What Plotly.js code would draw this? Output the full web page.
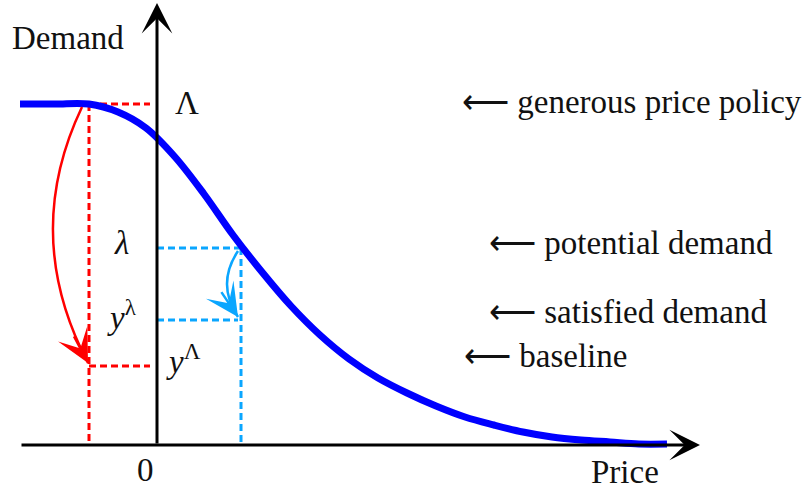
<!DOCTYPE html>
<html>
<head>
<meta charset="utf-8">
<script src="https://cdn.plot.ly/plotly-3.0.1.min.js"></script>
<style>html,body{margin:0;padding:0;background:#fff}#chart{width:809px;height:489px}</style>
</head>
<body>
<div id="chart"></div>
<script>
// Demand curve (price, demand)
const priceX  = [-1.37, -1.02, -0.68, -0.39, -0.11, 0.18, 0.47, 0.76, 1.05, 1.34, 1.63, 1.92, 2.21, 2.50, 2.79, 3.08, 3.37, 3.66, 3.95, 4.24, 4.53, 4.82, 5.10];
const demandY = [ 3.41,  3.41,  3.41,  3.33,  3.17, 2.88, 2.51, 2.10, 1.73, 1.39, 1.10, 0.86, 0.67, 0.52, 0.39, 0.28, 0.20, 0.13, 0.08, 0.05, 0.03, 0.01, 0.01];

// Key levels
const bigLambda    = 3.41;   // Λ  generous price policy
const smallLambda  = 1.97;   // λ  potential demand
const ySmall       = 1.25;   // y^λ satisfied demand
const yBig         = 0.79;   // y^Λ baseline
const priceGenerous = -0.68; // price of the generous policy
const pricePotential = 0.84; // price at the potential demand

// Axis extents
const xAxisStart = -1.37, xAxisEnd = 5.43, yAxisEnd = 4.42;

// Labels
const rightLabels = ["⟵ generous price policy", "⟵ potential demand", "⟵ satisfied demand", "⟵ baseline"];
const rightLabelX = [3.03, 3.30, 3.30, 3.05];
const rightLabelY = [3.43, 2.02, 1.33, 0.89];

const RED = '#ff0000', BLUE = '#0000ff', CYAN = '#0aa6ff', INK = '#111111';
const FONT = 'Liberation Serif, Times New Roman, serif';
const dash = '7px,4px';

const traces = [];
function seg(xs, ys, color, width, dashStyle) {
  traces.push({x: xs, y: ys, mode: 'lines', type: 'scatter', hoverinfo: 'skip',
    line: {color: color, width: width, dash: dashStyle || 'solid'}});
}
// red dashed guides
seg([priceGenerous, -0.07], [bigLambda, bigLambda], RED, 3, dash);
seg([priceGenerous, priceGenerous], [bigLambda, 0], RED, 3, dash);
seg([priceGenerous, -0.07], [yBig, yBig], RED, 3, dash);
// blue dashed guides
seg([0, pricePotential], [smallLambda, smallLambda], CYAN, 3, dash);
seg([pricePotential, pricePotential], [smallLambda, 0], CYAN, 3, dash);
seg([0, pricePotential - 0.03], [ySmall, ySmall], CYAN, 3, dash);

// demand curve
traces.push({x: priceX, y: demandY, mode: 'lines', type: 'scatter', hoverinfo: 'skip',
  line: {color: BLUE, width: 7, shape: 'spline', smoothing: 1}});

// curved arrows (quadratic Bezier paths between key points)
const redStart = [priceGenerous - 0.07, bigLambda - 0.03], redEnd = [priceGenerous - 0.01, yBig + 0.03], redCtl = [-1.36, 2.1];
const bluStart = [pricePotential - 0.03, smallLambda - 0.03], bluEnd = [pricePotential - 0.03, ySmall + 0.03], bluCtl = [0.59, 1.61];
function qpath(s, c, e) { return `M ${s[0]},${s[1]} Q ${c[0]},${c[1]} ${e[0]},${e[1]}`; }
const shapes = [
  {type: 'path', xref: 'x', yref: 'y', path: qpath(redStart, redCtl, redEnd), line: {color: RED, width: 2.5}},
  {type: 'path', xref: 'x', yref: 'y', path: qpath(bluStart, bluCtl, bluEnd), line: {color: CYAN, width: 2.5}}
];

function headAnn(end, ctl, color, k) {
  return {x: end[0], y: end[1], ax: end[0] - k * (end[0] - ctl[0]), ay: end[1] - k * (end[1] - ctl[1]),
    xref: 'x', yref: 'y', axref: 'x', ayref: 'y', text: '', showarrow: true,
    arrowhead: 3, arrowsize: 2.2, arrowwidth: 2.5, arrowcolor: color};
}

const annotations = [
  // axes
  {x: xAxisEnd, y: 0, ax: xAxisStart, ay: 0, xref: 'x', yref: 'y', axref: 'x', ayref: 'y', text: '',
   showarrow: true, arrowhead: 3, arrowsize: 1.7, arrowwidth: 3, arrowcolor: '#000'},
  {x: 0, y: yAxisEnd, ax: 0, ay: 0, xref: 'x', yref: 'y', axref: 'x', ayref: 'y', text: '',
   showarrow: true, arrowhead: 3, arrowsize: 1.7, arrowwidth: 3, arrowcolor: '#000'},
  headAnn(redEnd, redCtl, RED, 0.22),
  headAnn(bluEnd, bluCtl, CYAN, 0.8)
];
function txt(t, x, y, xa) {
  annotations.push({x: x, y: y, xref: 'x', yref: 'y', text: t, showarrow: false,
    xanchor: xa || 'center', yanchor: 'middle', font: {family: FONT, size: 33, color: INK}});
}
txt('Demand', -0.89, 4.07);
txt('Λ', 0.30, 3.42);
txt('<i>λ</i>', -0.36, 2.02);
txt('<i>y</i><sup>λ</sup>', -0.35, 1.30);
txt('<i>y</i><sup>Λ</sup>', 0.26, 0.86);
txt('0', -0.12, -0.25);
txt('Price', 4.68, -0.27);
rightLabels.forEach((t, i) => txt(t, rightLabelX[i], rightLabelY[i], 'left'));

const layout = {
  width: 809, height: 489,
  margin: {l: 0, r: 0, t: 0, b: 0},
  paper_bgcolor: '#fff', plot_bgcolor: '#fff',
  showlegend: false,
  xaxis: {range: [-1.57, 6.52], visible: false, fixedrange: true},
  yaxis: {range: [-0.44, 4.45], visible: false, fixedrange: true},
  shapes: shapes,
  annotations: annotations
};
Plotly.newPlot('chart', traces, layout, {displayModeBar: false, staticPlot: true});
</script>
</body>
</html>
